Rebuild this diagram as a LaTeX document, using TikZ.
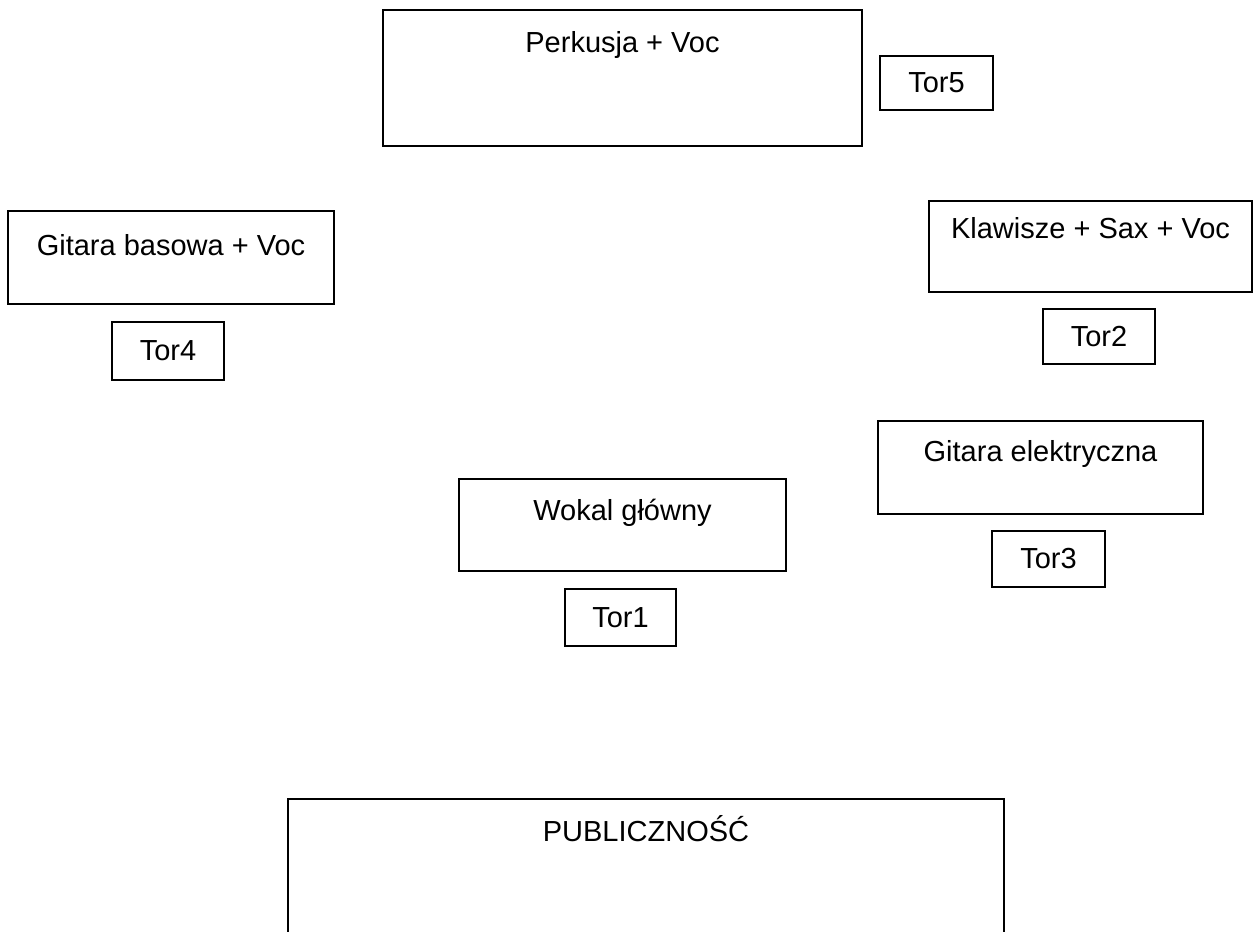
\documentclass[tikz,border=0pt]{standalone}
\usepackage{fontspec}
\setmainfont{Liberation Sans}
\begin{document}
\begin{tikzpicture}[x=1pt,y=-1pt,
  box/.style={draw=black, line width=1.6pt, inner sep=0pt, fill=none},
  lbl/.style={inner sep=0pt, font=\fontsize{29}{34}\selectfont},
  torbox/.style={draw=black, line width=1.6pt, inner sep=0pt, font=\fontsize{29}{34}\selectfont}]
\clip (0,0) rectangle (1254,932);
\fill[white] (0,0) rectangle (1254,932);
% Perkusja
\node[box, minimum width=479pt, minimum height=136pt] (perk) at (622.5,78) {};
\node[lbl, anchor=base] (perkt) at (622.5,52) {Perkusja + Voc};
\node[torbox, minimum width=113pt, minimum height=54pt] (tor5) at (936.5,83) {Tor5};
% Gitara basowa
\node[box, minimum width=326pt, minimum height=93pt] (bas) at (171,257.5) {};
\node[lbl, anchor=base] (bast) at (171,255) {Gitara basowa + Voc};
\node[torbox, minimum width=112pt, minimum height=58pt] (tor4) at (168,351) {Tor4};
% Klawisze
\node[box, minimum width=323pt, minimum height=91pt] (klaw) at (1090.5,246.5) {};
\node[lbl, anchor=base] (klawt) at (1090.5,238) {Klawisze + Sax + Voc};
\node[torbox, minimum width=112pt, minimum height=55pt] (tor2) at (1099,336.5) {Tor2};
% Gitara elektryczna
\node[box, minimum width=325pt, minimum height=93pt] (elek) at (1040.5,467.5) {};
\node[lbl, anchor=base] (elekt) at (1040.5,461) {Gitara elektryczna};
\node[torbox, minimum width=113pt, minimum height=56pt] (tor3) at (1048.5,559) {Tor3};
% Wokal
\node[box, minimum width=327pt, minimum height=92pt] (wok) at (622.5,525) {};
\node[lbl, anchor=base] (wokt) at (622.5,520) {Wokal główny};
\node[torbox, minimum width=111pt, minimum height=57pt] (tor1) at (620.5,617.5) {Tor1};
% Publicznosc
\node[box, minimum width=716pt, minimum height=200pt] (pub) at (646,899) {};
\node[lbl, anchor=base] (pubt) at (646,841) {PUBLICZNOŚĆ};
\end{tikzpicture}
\end{document}
